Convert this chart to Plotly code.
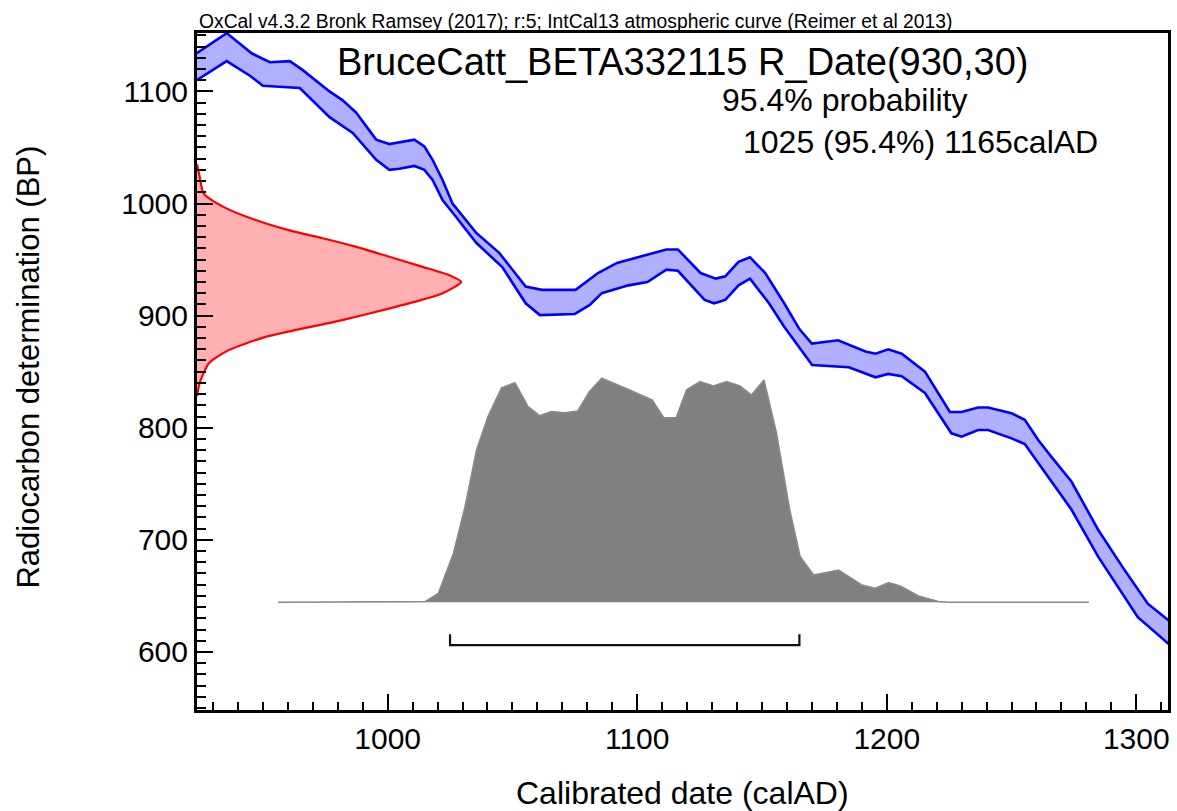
import plotly.graph_objects as go

# ---------------- data ----------------
# IntCal13 calibration curve, +1 sigma (upper) and -1 sigma (lower) edges
curve_upper_year = [923.5, 935.5, 945.5, 952.8, 960.8, 966, 976.7, 982, 987.4, 995.4,
                    1000.7, 1010.7, 1014.7, 1018, 1022, 1026, 1035.4, 1044.7, 1055.3, 1061.8,
                    1075.3, 1084.3, 1091.9, 1104.1, 1111.7, 1116.3, 1125.4, 1131.5, 1135.3, 1140.6,
                    1145.2, 1151.3, 1158.9, 1165, 1170, 1180.5, 1191.5, 1195.5, 1200.6, 1206,
                    1215.3, 1220.6, 1225.3, 1230, 1236.6, 1240.6, 1250, 1255.3, 1260.7, 1266,
                    1274, 1284.7, 1295.3, 1304.6, 1313]
curve_upper_bp = [1134, 1152, 1134, 1126, 1127, 1119, 1100, 1092, 1081, 1057,
                  1053, 1057, 1051, 1039, 1021, 1000, 974, 956, 926, 923,
                  923, 938, 947, 954, 959, 959, 938, 933, 935, 948,
                  952, 938, 911, 888, 875, 878, 868, 866, 870, 866,
                  850, 831, 814, 814, 818, 818, 813, 807, 789, 774,
                  752, 709, 673, 643, 628]

curve_lower_year = [923.5, 935.5, 944.8, 950, 964.8, 976.7, 986, 995.4, 1000.7, 1004.7,
                    1010.7, 1014.7, 1018, 1022, 1026, 1035.5, 1046, 1055.3, 1061, 1066,
                    1075, 1081, 1085.8, 1096.5, 1104.1, 1111.7, 1116.3, 1127, 1130.8, 1135.3,
                    1140.6, 1145.2, 1152.8, 1158.9, 1166, 1170.1, 1184.8, 1191.5, 1195.5, 1200.6,
                    1206, 1215.3, 1225.9, 1230, 1236.6, 1240.6, 1250, 1255.3, 1264.6, 1274,
                    1284.7, 1300.6, 1313]
curve_lower_bp = [1110, 1127, 1114, 1105, 1103, 1077, 1063, 1039, 1030, 1031,
                  1033.5, 1030, 1021, 1003, 992, 965, 943, 911, 900.5, 901,
                  901.5, 909.5, 920, 927, 930, 941, 940, 914, 911, 914,
                  927, 933, 911, 890, 868, 856, 854, 848, 845, 848,
                  846, 831, 795, 792, 798, 798, 790.5, 785.5, 756, 727,
                  685, 631, 607]

# Radiocarbon measurement R_Date(930,30): relative probability by BP
rdate_bp = [1035, 1024, 1009, 997, 985, 976, 969, 961.5, 952.5, 943.5, 936, 930,
            920, 914, 906.5, 896, 881, 869, 857.5, 840, 828]
rdate_prob = [0.0, 0.01, 0.025, 0.10, 0.225, 0.35, 0.476, 0.60, 0.728, 0.854, 0.955, 1.0,
              0.93, 0.85, 0.73, 0.55, 0.26, 0.118, 0.045, 0.01, 0.0]

# Calibrated date distribution: relative probability by calendar year
cal_year = [956, 1015, 1020.3, 1026.4, 1031, 1035.6, 1040.2, 1045.6, 1051, 1056.3,
            1060.9, 1065.6, 1070.9, 1076.2, 1080.8, 1085.8, 1095.3, 1106, 1110.7, 1115.6,
            1119.8, 1125.2, 1130.5, 1135.8, 1141.2, 1145.8, 1150.8, 1155.8, 1161, 1165.3,
            1170.7, 1180.7, 1190, 1195.4, 1200.7, 1205.4, 1212.7, 1220.7, 1225, 1281]
cal_prob = [0, 0.003, 0.04, 0.22, 0.427, 0.68, 0.829, 0.957, 0.98, 0.873,
            0.833, 0.851, 0.846, 0.854, 0.94, 1.0, 0.955, 0.903, 0.823, 0.823,
            0.948, 0.985, 0.966, 0.985, 0.966, 0.925, 0.992, 0.756, 0.42, 0.204,
            0.122, 0.144, 0.077, 0.0625, 0.0875, 0.073, 0.028, 0.003, 0, 0]

# 95.4% range
range_start = 1025
range_end = 1165

header_text = "OxCal v4.3.2 Bronk Ramsey (2017); r:5; IntCal13 atmospheric curve (Reimer et al 2013)"
title_text = "BruceCatt_BETA332115 R_Date(930,30)"
prob_text = "95.4% probability"
range_text = "1025 (95.4%) 1165calAD"
x_title = "Calibrated date (calAD)"
y_title = "Radiocarbon determination (BP)"

# ---------------- layout geometry ----------------
W, H = 1177, 811
L, R, T, B = 197, 6, 33, 101
PW = W - L - R
PH = H - T - B
FONT = "Liberation Sans, Arial, Helvetica, sans-serif"


def px2paper(px):
    return (px - L) / PW


def py2paper(py):
    return (H - B - py) / PH


fig = go.Figure()

# red R_Date distribution (on secondary x axis)
fig.add_trace(go.Scatter(
    x=rdate_prob, y=rdate_bp, xaxis="x2", yaxis="y",
    mode="lines", line=dict(color="#ff0000", width=2.2, shape="spline", smoothing=0.6),
    fill="tozerox", fillcolor="rgb(255,176,176)", hoverinfo="skip", showlegend=False))

# blue calibration band
band_x = list(curve_upper_year) + list(reversed(curve_lower_year))
band_y = list(curve_upper_bp) + list(reversed(curve_lower_bp))
fig.add_trace(go.Scatter(
    x=band_x, y=band_y, mode="lines", line=dict(width=0),
    fill="toself", fillcolor="rgb(176,176,255)", hoverinfo="skip", showlegend=False))
for xs, ys in ((curve_upper_year, curve_upper_bp), (curve_lower_year, curve_lower_bp)):
    fig.add_trace(go.Scatter(
        x=xs, y=ys, mode="lines", line=dict(color="#0000ff", width=2.6),
        hoverinfo="skip", showlegend=False))

# grey calibrated distribution (on secondary y axis)
fig.add_trace(go.Scatter(
    x=cal_year, y=cal_prob, xaxis="x", yaxis="y2", mode="lines",
    line=dict(color="#8a8a8a", width=1.5), fill="tozeroy", fillcolor="rgb(128,128,128)",
    hoverinfo="skip", showlegend=False))

# 95.4% range bracket
fig.add_trace(go.Scatter(
    x=[range_start, range_start, range_end, range_end],
    y=[-0.143, -0.191, -0.191, -0.143], xaxis="x", yaxis="y2", mode="lines",
    line=dict(color="#111111", width=2.2), hoverinfo="skip", showlegend=False))

axis_common = dict(
    showgrid=False, zeroline=False, showline=True, linecolor="black", linewidth=3,
    mirror=True, ticks="inside", ticklen=16, tickwidth=2, tickcolor="black",
    tickfont=dict(family=FONT, size=30, color="black"),
)

fig.update_layout(
    width=W, height=H,
    margin=dict(l=L, r=R, t=T, b=B, pad=0),
    paper_bgcolor="white", plot_bgcolor="white",
    xaxis=dict(range=[923.6, 1312.7], dtick=100, tick0=0,
               minor=dict(dtick=10, tick0=0, ticks="inside", ticklen=8, tickwidth=1.5,
                          tickcolor="black", showgrid=False),
               **axis_common),
    yaxis=dict(range=[548.2, 1152.1], dtick=100, tick0=0,
               minor=dict(dtick=10, tick0=0, ticks="inside", ticklen=9, tickwidth=1.5,
                          tickcolor="black", showgrid=False),
               **axis_common),
    xaxis2=dict(overlaying="x", anchor="y", range=[0, PW / 265.0], visible=False),
    yaxis2=dict(overlaying="y", anchor="x", range=[-0.481, 2.541], visible=False),
    annotations=[
        dict(text=header_text, xref="paper", yref="paper", x=px2paper(197), y=py2paper(21.5),
             xanchor="left", yanchor="middle", showarrow=False,
             font=dict(family=FONT, size=19.3, color="black")),
        dict(text=title_text, xref="paper", yref="paper", x=px2paper(684), y=py2paper(61.7),
             xanchor="center", yanchor="middle", showarrow=False,
             font=dict(family=FONT, size=38, color="black")),
        dict(text=prob_text, xref="paper", yref="paper", x=px2paper(722), y=py2paper(100.3),
             xanchor="left", yanchor="middle", showarrow=False,
             font=dict(family=FONT, size=32, color="black")),
        dict(text=range_text, xref="paper", yref="paper", x=px2paper(743), y=py2paper(141.7),
             xanchor="left", yanchor="middle", showarrow=False,
             font=dict(family=FONT, size=32, color="black")),
        dict(text=x_title, xref="paper", yref="paper", x=px2paper(684), y=py2paper(793),
             xanchor="center", yanchor="middle", showarrow=False,
             font=dict(family=FONT, size=32, color="black")),
        dict(text=y_title, xref="paper", yref="paper", x=px2paper(27), y=py2paper(367),
             xanchor="center", yanchor="middle", showarrow=False, textangle=-90,
             font=dict(family=FONT, size=31, color="black")),
    ],
)

fig.write_html("out.html", config={"displayModeBar": False},
               post_script="document.body.style.margin='0px';document.body.style.overflow='hidden';")
